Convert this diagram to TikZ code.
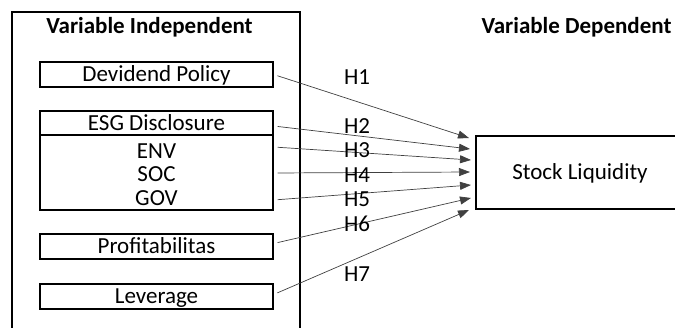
\documentclass[tikz,border=0pt]{standalone}
\usepackage{fontspec}
\setmainfont{Carlito}
\usetikzlibrary{arrows.meta}

\tikzset{
	varbox/.style={draw, line width=1.3pt, minimum width=233pt, minimum height=25pt, inner sep=0pt, text height=14pt, text depth=0pt},
	link/.style={draw=black!75, line width=0.7pt, shorten <=4pt, -{Triangle[length=11pt,width=8pt]}},
	title/.style={font=\fontsize{23}{27}\selectfont\bfseries}
}

\begin{document}
\begin{tikzpicture}[x=1pt, y=-1pt, font=\fontsize{23}{27}\selectfont]
	\useasboundingbox (0,0) rectangle (675,327);
	\draw [line width=1.3pt] (12,340) -- (12,12) -- (300,12) -- (300,340);
	\node [title] (indep) at (149.5,27) {Variable Independent};
	\node [title] (dep) at (576.5,27) {Variable Dependent};

	% independent variables
	\node [varbox] (dividend) at (156.5,74.5) {Devidend Policy};
	\node [varbox, minimum height=24pt] (esg) at (156.5,123) {ESG Disclosure};
	\node [varbox, minimum height=75pt] (esgdim) at (156.5,172.5) {};
	\node (env) at (156.5,151) {ENV};
	\node (soc) at (156.5,174) {SOC};
	\node (gov) at (156.5,198) {GOV};
	\node [varbox] (profit) at (156.5,246.5) {Profitabilitas};
	\node [varbox] (leverage) at (156.5,296.5) {Leverage};

	% dependent variable
	\node [varbox, minimum width=208pt, minimum height=73pt] (stock) at (580,172.5) {Stock Liquidity};

	\coordinate (in1) at (469,138);
	\coordinate (in2) at (470,149);
	\coordinate (in3) at (471,160);
	\coordinate (in4) at (470,172);
	\coordinate (in5) at (471,185);
	\coordinate (in6) at (471,198);
	\coordinate (in7) at (469,210);

	\draw [link] (dividend.east) -- (in1);
	\draw [link] ([yshift=-3pt]esg.east) -- (in2);
	\draw [link] ([yshift=4pt]esgdim.east |- env) -- (in3);
	\draw [link] ([yshift=1pt]esgdim.east |- soc) -- (in4);
	\draw [link] ([yshift=-2pt]esgdim.east |- gov) -- (in5);
	\draw [link] ([yshift=3pt]profit.east) -- (in6);
	\draw [link] ([yshift=2pt]leverage.east) -- (in7);

	% hypotheses
	\node (h1) at (357,77) {H1};
	\node (h2) at (357,126) {H2};
	\node (h3) at (357,150) {H3};
	\node (h4) at (357,175) {H4};
	\node (h5) at (357,199) {H5};
	\node (h6) at (357,224) {H6};
	\node (h7) at (357,274) {H7};
\end{tikzpicture}
\end{document}
